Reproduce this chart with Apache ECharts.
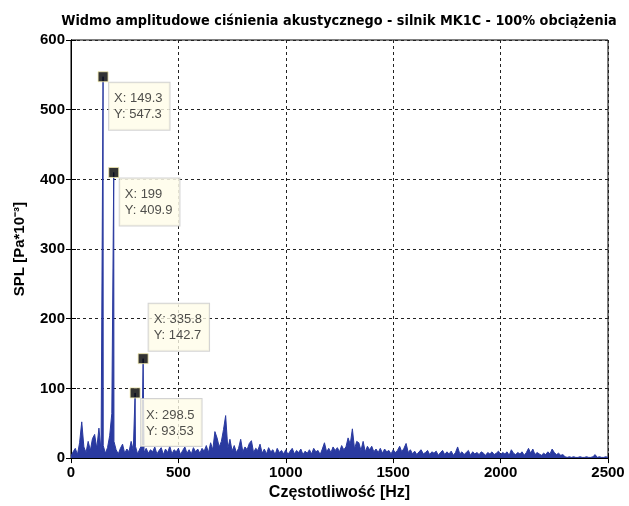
<!DOCTYPE html>
<html><head><meta charset="utf-8">
<script src="https://cdn.jsdelivr.net/npm/echarts@6/dist/echarts.min.js"></script>
<style>html,body{margin:0;padding:0;background:#fff}#c{width:629px;height:506px}</style>
</head><body><div id="c"></div>
<script>
const titleText = 'Widmo amplitudowe ciśnienia akustycznego - silnik MK1C - 100% obciążenia';
const xAxisName = 'Częstotliwość [Hz]';
const yAxisName = 'SPL [Pa*10⁻³]';
const xTicks = [0, 500, 1000, 1500, 2000, 2500];
const yTicks = [0, 100, 200, 300, 400, 500, 600];
const freqStep = 10; // Hz between noise samples, starting at 0 Hz
const noiseAmps = [
  3, 9, 14, 5, 22, 52, 16, 8, 24, 11,
  28, 34, 14, 43, 10, 18, 7, 15, 32, 64,
  24, 12, 6, 14, 20, 7, 13, 9, 24, 11,
  17, 6, 13, 19, 8, 14, 7, 12, 9, 16,
  6, 11, 15, 5, 13, 8, 17, 6, 12, 9,
  14, 5, 11, 16, 7, 12, 6, 15, 9, 13,
  7, 14, 10, 18, 8, 22, 12, 38, 29, 16,
  24, 41, 61, 14, 27, 10, 18, 8, 14, 27,
  9, 16, 12, 21, 25, 8, 14, 11, 20, 7,
  13, 6, 15, 9, 12, 5, 14, 8, 11, 6,
  12, 5, 10, 14, 6, 11, 8, 13, 5, 10,
  7, 12, 6, 14, 9, 11, 5, 13, 22, 9,
  14, 8, 16, 11, 15, 9, 18, 12, 16, 29,
  20, 42, 13, 24, 22, 11, 24, 9, 17, 12,
  17, 9, 13, 8, 14, 7, 13, 9, 11, 6,
  12, 8, 11, 17, 9, 14, 21, 8, 12, 6,
  10, 5, 9, 12, 6, 8, 11, 5, 9, 7,
  10, 4, 8, 11, 5, 9, 6, 10, 4, 8,
  16, 6, 9, 5, 8, 11, 4, 9, 6, 8,
  5, 9, 7, 4, 8, 6, 9, 5, 7, 10,
  5, 8, 6, 9, 4, 12, 7, 5, 8, 6,
  9, 4, 8, 14, 7, 13, 5, 8, 6, 4,
  7, 5, 9, 6, 13, 8, 5, 7, 4, 5,
  2, 1, 2, 1, 2, 1, 1, 2, 1, 1,
  2, 1, 1, 2, 5, 1, 2, 1, 1, 2,
  1
];
const peakFreqs = [149.3, 199, 298.5, 335.8];
const peakAmps = [547.3, 409.9, 93.53, 142.7];

// build spectrum line
const spectrum = noiseAmps.map((a, i) => [i * freqStep, a]);
peakFreqs.forEach((f, i) => spectrum.push([f, peakAmps[i]]));
spectrum.sort((a, b) => a[0] - b[0]);

// data tip placement (layout only): 'below' = lower-right, 'above' = upper-right
const tipPlacement = ['below', 'below', 'below', 'above'];

const tipData = peakFreqs.map((f, i) => ({
  value: [f, peakAmps[i]],
  label: tipPlacement[i] === 'above'
    ? { position: [11, -2.5], verticalAlign: 'bottom' }
    : { position: [11.5, 11.5], verticalAlign: 'top' }
}));

const tickFont = { fontFamily: 'Liberation Sans, Arial, sans-serif', fontWeight: 'bold', fontSize: 15, color: '#000' };
const plain = v => String(v);
const lineColor = '#2a3aa0';

const chart = echarts.init(document.getElementById('c'), null, { renderer: 'canvas' });
chart.setOption({
  animation: false,
  backgroundColor: '#fff',
  title: {
    text: titleText,
    left: 334, top: 9, textAlign: 'center',
    textStyle: { fontFamily: "'Liberation Sans Narrow', 'DejaVu Sans Condensed', 'Liberation Sans', Arial, sans-serif", fontWeight: 'bold', fontSize: 14.3, color: '#000' }
  },
  grid: { left: 71, right: 21, top: 40, bottom: 46, show: true, borderColor: '#000', borderWidth: 1 },
  xAxis: [{
    type: 'value', min: xTicks[0], max: xTicks[xTicks.length - 1], interval: xTicks[1] - xTicks[0],
    name: xAxisName, nameLocation: 'middle', nameGap: 26,
    nameTextStyle: Object.assign({}, tickFont, { fontSize: 16 }),
    axisLine: { lineStyle: { color: '#000' } },
    axisTick: { inside: true, length: 5, lineStyle: { color: '#000' } },
    axisLabel: Object.assign({ margin: 7, formatter: plain }, tickFont),
    splitLine: { show: true, lineStyle: { color: '#222', type: [3, 3], width: 1 } }
  }, {
    type: 'value', position: 'top', min: xTicks[0], max: xTicks[xTicks.length - 1], interval: xTicks[1] - xTicks[0],
    axisLine: { lineStyle: { color: '#000' } },
    axisTick: { inside: true, length: 5, lineStyle: { color: '#000' } },
    axisLabel: { show: false }, splitLine: { show: false }
  }],
  yAxis: [{
    type: 'value', min: yTicks[0], max: yTicks[yTicks.length - 1], interval: yTicks[1] - yTicks[0],
    name: yAxisName, nameLocation: 'middle', nameGap: 44,
    nameTextStyle: { fontFamily: 'Liberation Sans, Arial, sans-serif', fontWeight: 'bold', fontSize: 15, color: '#000' },
    axisLine: { lineStyle: { color: '#000' } },
    axisTick: { inside: true, length: 5, lineStyle: { color: '#000' } },
    axisLabel: Object.assign({ margin: 6, formatter: plain }, tickFont),
    splitLine: { show: true, lineStyle: { color: '#222', type: [3, 3], width: 1 } }
  }, {
    type: 'value', position: 'right', min: yTicks[0], max: yTicks[yTicks.length - 1], interval: yTicks[1] - yTicks[0],
    axisLine: { lineStyle: { color: '#000' } },
    axisTick: { inside: true, length: 5, lineStyle: { color: '#000' } },
    axisLabel: { show: false }, splitLine: { show: false }
  }],
  series: [{
    type: 'line',
    data: spectrum,
    showSymbol: false,
    sampling: null,
    lineStyle: { color: lineColor, width: 1 },
    itemStyle: { color: lineColor },
    areaStyle: { color: lineColor, opacity: 1 },
    z: 2
  }, {
    type: 'scatter',
    data: tipData,
    symbol: 'rect',
    symbolSize: 10,
    itemStyle: { color: '#000', borderColor: '#f4ecb0', borderWidth: 1 },
    label: {
      show: true,
      align: 'left',
      formatter: p => 'X: ' + p.value[0] + '\nY: ' + p.value[1],
      fontFamily: 'Liberation Sans, Arial, sans-serif',
      fontSize: 13,
      lineHeight: 16,
      color: '#222',
      backgroundColor: '#fffde9',
      borderColor: '#c8c8c8',
      borderWidth: 1,
      padding: [8, 7, 7, 5]
    },
    z: 5
  }]
});
</script>
</body></html>
